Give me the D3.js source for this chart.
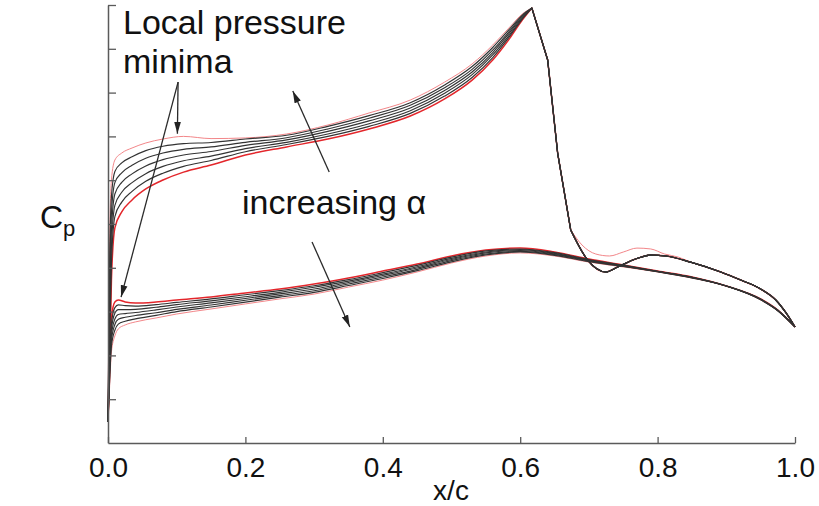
<!DOCTYPE html>
<html>
<head>
<meta charset="utf-8">
<script src="https://cdn.jsdelivr.net/npm/d3@7"></script>
<style>
  body { margin: 0; background: #fff; }
  text { font-family: "Liberation Sans", Arial, sans-serif; fill: #111; }
</style>
</head>
<body>
<svg id="chart" width="819" height="506"></svg>
<script>
// ---- pressure coefficient distributions, seven angles of attack (lowest first) ----

// upper surface, leading edge up to the suction peak
const xUpper = [0, 0.002, 0.005, 0.01, 0.02, 0.035, 0.055, 0.08, 0.11, 0.15, 0.2, 0.26, 0.32, 0.38, 0.44, 0.49, 0.53, 0.56, 0.585, 0.603, 0.617];
const upperA0 = [0.504, 0.312, -0.144, -0.382, -0.455, -0.510, -0.560, -0.601, -0.637, -0.669, -0.715, -0.752, -0.788, -0.834, -0.893, -0.971, -1.057, -1.149, -1.249, -1.331, -1.386];
const upperA1 = [0.504, 0.221, -0.220, -0.434, -0.500, -0.549, -0.595, -0.632, -0.663, -0.690, -0.730, -0.763, -0.800, -0.846, -0.905, -0.984, -1.069, -1.160, -1.258, -1.336, -1.386];
const upperA2 = [0.504, 0.129, -0.296, -0.485, -0.545, -0.589, -0.630, -0.663, -0.689, -0.710, -0.744, -0.773, -0.811, -0.858, -0.917, -0.997, -1.082, -1.172, -1.266, -1.340, -1.386];
const upperA3 = [0.504, 0.038, -0.372, -0.537, -0.590, -0.629, -0.665, -0.694, -0.715, -0.731, -0.759, -0.784, -0.823, -0.871, -0.930, -1.010, -1.094, -1.183, -1.275, -1.345, -1.386];
const upperA4 = [0.504, -0.053, -0.449, -0.589, -0.634, -0.668, -0.700, -0.724, -0.741, -0.752, -0.773, -0.794, -0.834, -0.883, -0.942, -1.022, -1.106, -1.194, -1.283, -1.350, -1.386];
const upperA5 = [0.504, -0.145, -0.525, -0.640, -0.679, -0.707, -0.735, -0.755, -0.767, -0.772, -0.788, -0.805, -0.846, -0.895, -0.954, -1.035, -1.119, -1.206, -1.292, -1.354, -1.386];
const upperA6 = [0.504, -0.236, -0.601, -0.692, -0.724, -0.747, -0.770, -0.788, -0.800, -0.790, -0.793, -0.811, -0.852, -0.907, -0.966, -1.048, -1.131, -1.217, -1.300, -1.359, -1.386];

// shock: common to all angles, from the suction peak to the shock foot
const xShock  = [0.617, 0.640, 0.6545, 0.6735];
const cpShock = [-1.386, -1.149, -0.724, -0.373];

// upper surface behind the shock (shared by the six lower angles)
const xUpperTail  = [0.6735, 0.698, 0.7245, 0.742, 0.768, 0.790, 0.812, 0.848, 0.892, 0.921, 0.950, 0.972, 0.987, 1.0];
const cpUpperTail = [-0.373, -0.236, -0.181, -0.204, -0.240, -0.258, -0.254, -0.226, -0.181, -0.144, -0.103, -0.053, 0.006, 0.070];

// upper surface behind the shock, highest angle
const xUpperTailHi  = [0.6735, 0.690, 0.710, 0.730, 0.750, 0.770, 0.790, 0.810, 0.830, 0.848, 0.892, 0.921, 0.950, 0.972, 0.987, 1.0];
const cpUpperTailHi = [-0.373, -0.304, -0.263, -0.254, -0.272, -0.290, -0.286, -0.263, -0.249, -0.226, -0.181, -0.144, -0.103, -0.053, 0.006, 0.070];

// lower surface
const xLower = [0, 0.002, 0.005, 0.01, 0.015, 0.025, 0.04, 0.07, 0.1, 0.15, 0.2, 0.25, 0.3, 0.35, 0.4, 0.45, 0.5, 0.55, 0.6, 0.65, 0.7, 0.75, 0.8, 0.85, 0.9, 0.95, 0.975, 1.0];
const lowerA0 = [0.504, 0.221, 0.029, -0.044, -0.053, -0.044, -0.039, -0.044, -0.053, -0.067, -0.085, -0.103, -0.126, -0.153, -0.185, -0.217, -0.254, -0.281, -0.290, -0.272, -0.240, -0.213, -0.185, -0.158, -0.117, -0.058, -0.007, 0.070];
const lowerA1 = [0.504, 0.245, 0.055, -0.018, -0.031, -0.027, -0.025, -0.032, -0.042, -0.058, -0.077, -0.096, -0.118, -0.146, -0.178, -0.211, -0.249, -0.277, -0.286, -0.269, -0.238, -0.212, -0.184, -0.157, -0.117, -0.057, -0.006, 0.070];
const lowerA2 = [0.504, 0.270, 0.081, 0.008, -0.009, -0.009, -0.010, -0.020, -0.032, -0.049, -0.068, -0.088, -0.111, -0.139, -0.171, -0.205, -0.243, -0.272, -0.283, -0.266, -0.235, -0.210, -0.184, -0.156, -0.117, -0.056, -0.006, 0.070];
const lowerA3 = [0.504, 0.294, 0.107, 0.034, 0.013, 0.009, 0.004, -0.008, -0.021, -0.040, -0.060, -0.081, -0.103, -0.133, -0.165, -0.199, -0.238, -0.268, -0.279, -0.263, -0.233, -0.209, -0.183, -0.156, -0.117, -0.056, -0.005, 0.070];
const lowerA4 = [0.504, 0.318, 0.132, 0.059, 0.035, 0.026, 0.018, 0.005, -0.010, -0.030, -0.052, -0.073, -0.095, -0.126, -0.158, -0.193, -0.233, -0.263, -0.275, -0.260, -0.231, -0.207, -0.182, -0.155, -0.117, -0.055, -0.004, 0.070];
const lowerA5 = [0.504, 0.343, 0.158, 0.085, 0.057, 0.044, 0.033, 0.017, 0.000, -0.021, -0.043, -0.066, -0.088, -0.119, -0.151, -0.187, -0.227, -0.259, -0.272, -0.257, -0.228, -0.206, -0.182, -0.154, -0.117, -0.054, -0.004, 0.070];
const lowerA6 = [0.504, 0.367, 0.184, 0.111, 0.079, 0.061, 0.047, 0.029, 0.011, -0.012, -0.035, -0.058, -0.080, -0.112, -0.144, -0.181, -0.222, -0.254, -0.268, -0.254, -0.226, -0.204, -0.181, -0.153, -0.117, -0.053, -0.003, 0.070];

// axes
const xTicks = [0, 0.2, 0.4, 0.6, 0.8, 1.0];
const yTicks = [-1.4, -1.2, -1.0, -0.8, -0.6, -0.4, -0.2, 0.0, 0.2, 0.4];

// annotation arrows: [x0, cp0, x1, cp1] (tail -> head)
const arrows = [
  [0.102, -1.048, 0.101, -0.812],
  [0.102, -1.048, 0.019, -0.066],
  [0.322, -0.637, 0.269, -1.007],
  [0.297, -0.318, 0.352, 0.070]
];

// ---- drawing ----
const svg = d3.select("#chart");
const x = d3.scaleLinear().domain([0, 1]).range([108, 795]);
const y = d3.scaleLinear().domain([-1.4, 0.6]).range([5, 443]);

const toPts = (xs, cps) => xs.map((v, i) => [v, cps[i]]);
const smooth = d3.line().x(d => x(d[0])).y(d => y(d[1])).curve(d3.curveMonotoneX);
const straight = d3.line().x(d => x(d[0])).y(d => y(d[1]));
// join several path pieces into one continuous path
const joinPieces = pieces => pieces.map((p, i) => (i === 0 ? p : p.replace(/^M/, "L"))).join("");

const style = {
  lo:  { stroke: "#e3262b", width: 1.5, opacity: 1 },
  mid: { stroke: "#333333", width: 1.15, opacity: 1 },
  hi:  { stroke: "#f17f83", width: 1.0, opacity: 0.95 }
};

const upperFront = [upperA0, upperA1, upperA2, upperA3, upperA4, upperA5, upperA6];
const lowerAll = [lowerA0, lowerA1, lowerA2, lowerA3, lowerA4, lowerA5, lowerA6];

const series = [];
upperFront.forEach((cps, i) => {
  const tailX = i === 6 ? xUpperTailHi : xUpperTail;
  const tailC = i === 6 ? cpUpperTailHi : cpUpperTail;
  series.push({
    k: i,
    d: joinPieces([
      smooth(toPts(xUpper, cps)),
      straight(toPts(xShock, cpShock)),
      smooth(toPts(tailX, tailC))
    ])
  });
});
lowerAll.forEach((cps, i) => series.push({ k: i, d: smooth(toPts(xLower, cps)) }));

const kind = k => (k === 0 ? "lo" : k === 6 ? "hi" : "mid");
// draw order: highest angle underneath, then lowest, then intermediate on top
const order = k => (k === 6 ? 0 : k === 0 ? 1 : 2);
series.sort((a, b) => order(a.k) - order(b.k));

svg.append("g").selectAll("path").data(series).join("path")
  .attr("d", d => d.d)
  .attr("fill", "none")
  .attr("stroke", d => style[kind(d.k)].stroke)
  .attr("stroke-width", d => style[kind(d.k)].width)
  .attr("stroke-opacity", d => style[kind(d.k)].opacity)
  .attr("stroke-linejoin", "round");

// axes
const axisColor = "#5a5a5a";
const gx = svg.append("g").attr("transform", "translate(0,443)")
  .call(d3.axisBottom(x).tickValues(xTicks).tickSize(-6).tickSizeOuter(0)
    .tickPadding(14).tickFormat(d3.format(".1f")));
const gy = svg.append("g").attr("transform", "translate(108,0)")
  .call(d3.axisLeft(y).tickValues(yTicks).tickSize(-8).tickSizeOuter(0).tickFormat(""));
[gx, gy].forEach(g => {
  g.select(".domain").attr("stroke", axisColor).attr("stroke-width", 1.5);
  g.selectAll(".tick line").attr("stroke", axisColor).attr("stroke-width", 1.3);
});
gx.selectAll(".tick text").attr("font-size", 28).attr("fill", "#111")
  .style("font-family", '"Liberation Sans", Arial, sans-serif');

// arrows
const defs = svg.append("defs");
defs.append("marker").attr("id", "head")
  .attr("markerUnits", "userSpaceOnUse")
  .attr("viewBox", "0 0 12 8").attr("refX", 12).attr("refY", 4)
  .attr("markerWidth", 12).attr("markerHeight", 8).attr("orient", "auto")
  .append("path").attr("d", "M0,0.6 L12,4 L0,7.4 Z").attr("fill", "#222");

svg.append("g").selectAll("line").data(arrows).join("line")
  .attr("x1", d => x(d[0])).attr("y1", d => y(d[1]))
  .attr("x2", d => x(d[2])).attr("y2", d => y(d[3]))
  .attr("stroke", "#2a2a2a").attr("stroke-width", 1.3)
  .attr("marker-end", "url(#head)");

// labels
svg.append("text").attr("x", 123).attr("y", 34).attr("font-size", 34).text("Local pressure");
svg.append("text").attr("x", 123).attr("y", 73).attr("font-size", 34).text("minima");
svg.append("text").attr("x", 242).attr("y", 214).attr("font-size", 34).text("increasing \u03b1");
svg.append("text").attr("x", 451).attr("y", 500).attr("font-size", 28).attr("text-anchor", "middle").text("x/c");
const cp = svg.append("text").attr("x", 40).attr("y", 228).attr("font-size", 32);
cp.append("tspan").text("C");
cp.append("tspan").attr("font-size", 22).attr("dy", 8).text("p");
</script>
</body>
</html>
